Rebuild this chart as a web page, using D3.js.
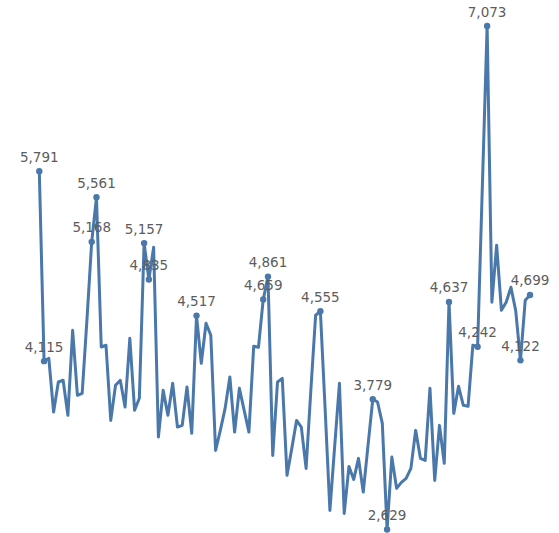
<!DOCTYPE html>
<html>
<head>
<meta charset="utf-8">
<script src="https://cdn.jsdelivr.net/npm/d3@7"></script>
<style>
  html, body { margin: 0; padding: 0; background: #fff; }
  #chart { width: 559px; height: 533px; }
</style>
</head>
<body>
<div id="chart"></div>
<script>
// weekly values
var values = [
  5791, 4115, 4140, 3666, 3931, 3946, 3637, 4387, 3813, 3831,
  4480, 5168, 5561, 4240, 4255, 3592, 3902, 3946, 3710, 4317,
  3681, 3787, 5157, 4835, 5121, 3445, 3857, 3637, 3919, 3533,
  3548, 3887, 3478, 4517, 4096, 4449, 4343, 3327, 3504, 3698,
  3975, 3489, 3875, 3681, 3489, 4246, 4237, 4659, 4861, 3283,
  3931, 3963, 3107, 3345, 3592, 3533, 3168, 3858, 4520, 4555,
  3690, 2797, 3363, 3919, 2771, 3186, 3071, 3257, 2959, 3372,
  3779, 3754, 3566, 2629, 3268, 2992, 3045, 3080, 3168, 3504,
  3257, 3239, 3875, 3062, 3548, 3213, 4637, 3654, 3893, 3725,
  3716, 4255, 4242, 5660, 7073, 4635, 5138, 4564, 4635, 4767,
  4560, 4122, 4653, 4699
];
var periods = values.map(function (d, i) { return i; });
// points that carry a marker and a value label
var labelled = [0, 1, 11, 12, 22, 23, 33, 47, 48, 59, 70, 73, 86, 92, 94, 101, 103];

var width = 559, height = 533;
var margin = { top: 26, right: 29, bottom: 3.5, left: 39.3 };

var svg = d3.select('#chart').append('svg')
    .attr('width', width)
    .attr('height', height);

var x = d3.scaleLinear()
    .domain(d3.extent(periods))
    .range([margin.left, width - margin.right]);

var y = d3.scaleLinear()
    .domain(d3.extent(values))
    .range([height - margin.bottom, margin.top]);

var data = periods.map(function (p, i) { return { p: p, v: values[i] }; });

var line = d3.line()
    .x(function (d) { return x(d.p); })
    .y(function (d) { return y(d.v); });

svg.append('path')
    .datum(data)
    .attr('d', line)
    .attr('fill', 'none')
    .attr('stroke', '#4a78aa')
    .attr('stroke-width', 3)
    .attr('stroke-linejoin', 'round')
    .attr('stroke-linecap', 'round');

var marks = labelled.map(function (i) { return data[i]; });

svg.append('g').selectAll('circle')
    .data(marks)
    .enter().append('circle')
    .attr('cx', function (d) { return x(d.p); })
    .attr('cy', function (d) { return y(d.v); })
    .attr('r', 3.2)
    .attr('fill', '#4a78aa');

svg.append('g').selectAll('text')
    .data(marks)
    .enter().append('text')
    .attr('x', function (d) { return x(d.p); })
    .attr('y', function (d) { return y(d.v) - 9.5; })
    .attr('text-anchor', 'middle')
    .attr('font-family', '"DejaVu Sans", sans-serif')
    .attr('font-size', '13.5px')
    .attr('fill', '#5c5c5c')
    .text(function (d) { return d3.format(',')(d.v); });
</script>
</body>
</html>
